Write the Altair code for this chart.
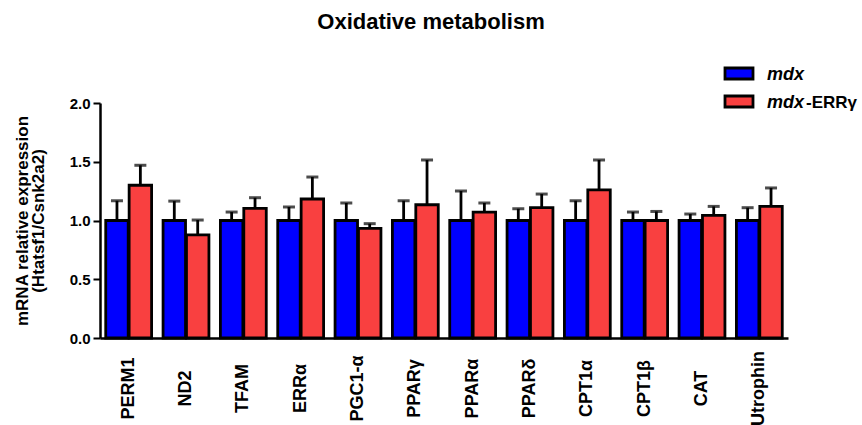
import altair as alt
import pandas as pd

genes = ["PERM1", "ND2", "TFAM", "ERRα", "PGC1-α", "PPARγ", "PPARα", "PPARδ",
         "CPT1α", "CPT1β", "CAT", "Utrophin"]
series = ["mdx", "mdx-ERRγ"]
colors = ["#0000FF", "#F94040"]

mdx_mean = [1.0, 1.0, 1.0, 1.0, 1.0, 1.0, 1.0, 1.0, 1.0, 1.0, 1.0, 1.0]
mdx_sem = [0.168, 0.165, 0.072, 0.115, 0.149, 0.168, 0.251, 0.100, 0.168, 0.072, 0.055, 0.109]
errg_mean = [1.30, 0.877, 1.103, 1.183, 0.933, 1.134, 1.072, 1.109, 1.26, 1.0, 1.043, 1.12]
errg_sem = [0.17, 0.127, 0.091, 0.187, 0.040, 0.381, 0.077, 0.116, 0.255, 0.077, 0.077, 0.157]

rows = []
for i, g in enumerate(genes):
    rows.append({"gene": g, "series": series[0], "mean": mdx_mean[i], "upper": mdx_mean[i] + mdx_sem[i]})
    rows.append({"gene": g, "series": series[1], "mean": errg_mean[i], "upper": errg_mean[i] + errg_sem[i]})
df = pd.DataFrame(rows)

FONT = "Liberation Sans"
color_scale = alt.Scale(domain=series, range=colors)

x_enc = alt.X("gene:N", sort=genes,
              scale=alt.Scale(paddingInner=0.2, paddingOuter=0.1),
              axis=alt.Axis(title=None, labelAngle=270, labelAlign="center", labelBaseline="middle",
                            labelPadding=50, ticks=False, labelLimit=200,
                            labelFont=FONT, labelFontSize=18, labelFontWeight="bold",
                            labelColor="black", domainColor="black", domainWidth=2.5))
xo_enc = alt.XOffset("series:N", sort=series, scale=alt.Scale(paddingInner=0.04))

base = alt.Chart(df).encode(x=x_enc, xOffset=xo_enc)

bars = base.mark_bar(stroke="black", strokeWidth=2.8).encode(
    y=alt.Y("mean:Q", scale=alt.Scale(domain=[0, 2]),
            axis=alt.Axis(values=[0, 0.5, 1.0, 1.5, 2.0], format=".1f", grid=False,
                          labelFont=FONT, labelFontSize=15, labelFontWeight="bold",
                          labelColor="black", labelPadding=3,
                          tickSize=7, tickWidth=2, tickColor="black",
                          domainColor="black", domainWidth=2.5,
                          title=["mRNA relative expression", "(Htatsf1/Csnk2a2)"],
                          titleFont=FONT, titleFontSize=17, titleFontWeight="bold",
                          titleColor="black", titleAngle=270, titleX=-69, titleY=117.5,
                          titleBaseline="bottom", titleAlign="center", titleLineHeight=16)),
    color=alt.Color("series:N", scale=color_scale, legend=None),
)

rule = base.mark_rule(color="black", strokeWidth=2.8).encode(y="mean:Q", y2="upper:Q")
cap = base.mark_tick(color="black", size=12, thickness=3).encode(y="upper:Q")

# manual legend (mixed italic / upright label)
leg_layers = []
leg_y = [(-35, -24), (-7, 4)]
for i, s in enumerate(series):
    d = pd.DataFrame({"series": [s], "it": ["mdx"], "rest": [s.replace("mdx", "")]})
    c = alt.Chart(d)
    leg_layers.append(c.mark_rect(stroke="black", strokeWidth=2.8).encode(
        x=alt.value(625), x2=alt.value(653), y=alt.value(leg_y[i][0]), y2=alt.value(leg_y[i][1]),
        color=alt.Color("series:N", scale=color_scale, legend=None)))
    leg_layers.append(c.mark_text(align="left", baseline="alphabetic", font=FONT, fontSize=18,
                                  fontWeight="bold", fontStyle="italic", color="black").encode(
        x=alt.value(667), y=alt.value(leg_y[i][1] + 1), text="it:N"))
    if s.replace("mdx", ""):
        leg_layers.append(c.mark_text(align="left", baseline="alphabetic", font=FONT, fontSize=17,
                                      fontWeight="bold", color="black").encode(
            x=alt.value(706), y=alt.value(leg_y[i][1] + 1), text="rest:N"))

chart = alt.layer(bars, rule, cap, *leg_layers).properties(
    width=688, height=235,
    background="white",
    autosize=alt.AutoSizeParams(type="none"),
    padding={"left": 100, "top": 103, "right": 74, "bottom": 87},
    title=alt.TitleParams("Oxidative metabolism", font=FONT, fontSize=22, fontWeight="bold",
                          color="black", anchor="middle", frame="group", dx=-13,
                          baseline="alphabetic", offset=15),
).configure_view(stroke=None)

chart.save("out.html", embed_options={"renderer": "svg", "actions": False})
